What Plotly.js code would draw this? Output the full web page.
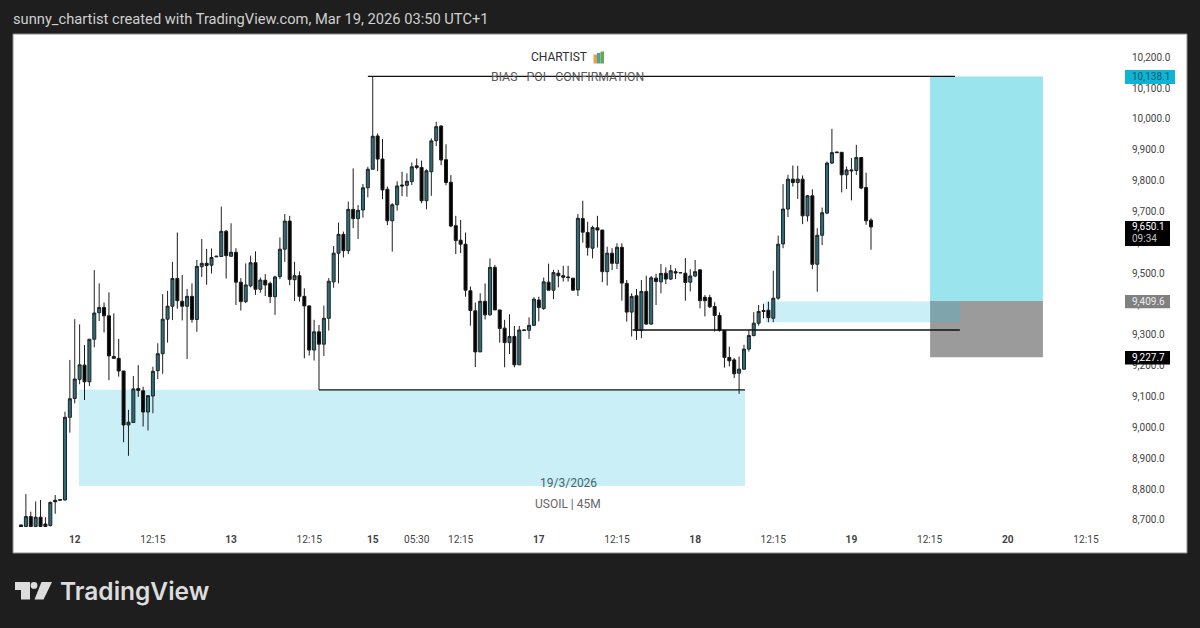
<!DOCTYPE html>
<html><head><meta charset="utf-8">
<script src="https://cdn.plot.ly/plotly-3.0.1.min.js"></script>
<style>html,body{margin:0;padding:0;background:#1e1e1e}#c{width:1200px;height:628px}</style>
</head><body><div id="c"></div>
<script>
const open = [8684,8679,8711,8679,8709,8687,8682,8764,8764,8765,9033,9094,9156,9202,9148,9286,9372,9389,9362,9230,
9224,9183,9008,9016,9126,9119,9050,9102,9184,9239,9351,9393,9483,9409,9393,9425,9350,9521,9532,9526,
9553,9554,9636,9555,9568,9471,9408,9459,9534,9448,9477,9467,9424,9489,9578,9669,9479,9492,9425,9394,
9251,9310,9270,9354,9472,9565,9626,9573,9707,9677,9705,9777,9837,9945,9870,9772,9670,9722,9786,9785,
9797,9848,9843,9735,9829,9930,9977,9868,9795,9654,9607,9594,9443,9378,9245,9409,9365,9519,9381,9322,
9275,9295,9203,9314,9315,9331,9413,9386,9471,9445,9500,9492,9488,9484,9446,9677,9632,9581,9647,9640,
9505,9565,9532,9584,9467,9374,9427,9314,9441,9335,9484,9472,9500,9481,9505,9501,9500,9471,9491,9511,
9422,9421,9392,9363,9314,9227,9219,9176,9189,9254,9298,9338,9379,9380,9354,9419,9595,9708,9805,9794,
9805,9686,9751,9529,9623,9695,9857,9893,9892,9819,9835,9833,9875,9778,9672];
const high = [8684,8784,8727,8760,8765,8709,8760,8781,8767,9051,9219,9351,9334,9267,9287,9510,9467,9405,9438,9370,
9287,9183,9057,9167,9202,9132,9105,9197,9273,9432,9443,9537,9632,9494,9449,9467,9543,9611,9579,9580,
9556,9716,9640,9662,9581,9484,9532,9557,9571,9486,9497,9473,9492,9616,9692,9686,9537,9506,9451,9396,
9349,9332,9395,9484,9588,9664,9635,9732,9840,9721,9789,9845,10138.1,9953,9935,9781,9727,9798,9829,9824,
9859,9872,9865,9837,9937,9991,9980,9918,9818,9686,9673,9632,9457,9405,9435,9467,9548,9527,9381,9349,
9367,9329,9329,9317,9357,9422,9424,9486,9531,9511,9511,9524,9524,9484,9692,9735,9667,9654,9686,9640,
9586,9581,9597,9597,9478,9435,9449,9478,9492,9491,9498,9530,9519,9527,9516,9503,9549,9513,9543,9511,
9429,9430,9406,9373,9316,9262,9225,9230,9268,9316,9374,9397,9401,9408,9508,9622,9789,9819,9849,9848,
9817,9754,9772,9646,9713,9862,9968,9894,9892,9846,9873,9916,9875,9826,9678];
const low = [8679,8679,8679,8679,8679,8679,8679,8720,8762,8763,8983,9078,9140,9089,9134,9260,9345,9308,9153,9224,
9165,8952,8908,9016,9099,9003,8990,9046,9157,9174,9275,9348,9385,9347,9222,9340,9310,9488,9463,9499,
9552,9553,9483,9554,9397,9379,9403,9454,9430,9437,9426,9403,9365,9481,9537,9461,9410,9408,9224,9233,
9217,9122,9232,9314,9453,9467,9551,9562,9646,9611,9680,9746,9837,9831,9740,9656,9570,9703,9750,9748,
9786,9837,9727,9707,9751,9912,9850,9785,9649,9562,9565,9424,9330,9196,9245,9350,9363,9381,9275,9195,
9238,9195,9203,9313,9287,9329,9344,9381,9444,9416,9454,9473,9473,9444,9426,9599,9557,9548,9583,9471,
9460,9510,9514,9411,9343,9295,9284,9289,9333,9333,9397,9435,9465,9478,9481,9500,9411,9441,9487,9386,
9360,9387,9311,9311,9194,9198,9160,9109,9187,9246,9295,9330,9354,9341,9341,9414,9581,9682,9781,9741,
9659,9668,9513,9440,9591,9691,9854,9890,9762,9773,9736,9819,9772,9657,9576];
const close = [8679,8711,8679,8709,8679,8679,8757,8759,8766,9033,9093,9157,9203,9148,9286,9371,9389,9362,9232,9224,
9183,9008,9017,9125,9120,9050,9103,9182,9239,9351,9393,9483,9411,9393,9425,9350,9522,9532,9525,9551,
9555,9636,9557,9568,9471,9408,9462,9534,9448,9478,9462,9424,9488,9578,9669,9480,9492,9425,9394,9251,
9310,9270,9354,9474,9565,9626,9573,9707,9677,9704,9777,9837,9944,9870,9770,9670,9722,9783,9783,9798,
9845,9843,9735,9832,9929,9975,9867,9794,9653,9606,9594,9445,9379,9245,9409,9365,9519,9381,9321,9275,
9295,9203,9316,9316,9331,9416,9389,9472,9445,9502,9492,9487,9486,9445,9678,9633,9583,9648,9640,9505,
9565,9532,9584,9468,9374,9425,9314,9441,9335,9485,9473,9499,9481,9508,9501,9502,9470,9491,9505,9411,
9411,9391,9363,9314,9227,9216,9174,9189,9254,9298,9338,9376,9376,9356,9419,9594,9708,9805,9794,9805,
9686,9751,9529,9623,9696,9857,9891,9891,9819,9835,9832,9875,9776,9670,9650.1];

const priceTicks = [8700,8800,8900,9000,9100,9200,9300,9400,9500,9600,9700,9800,9900,10000,10100,10200];
const priceLabels = ["8,700.0","8,800.0","8,900.0","9,000.0","9,100.0","9,200.0","9,300.0","9,400.0","9,500.0","9,600.0","9,700.0","9,800.0","9,900.0","10,000.0","10,100.0","10,200.0"];
const timeTicks = [11,27,43,59,72,81,90,106,122,138,154,170,186,202,218];
const timeLabels = ["<b>12</b>","12:15","<b>13</b>","12:15","<b>15</b>","05:30","12:15","<b>17</b>","12:15","<b>18</b>","12:15","<b>19</b>","12:15","<b>20</b>","12:15"];

const longEntry = 9409.6, longTarget = 10138.1, longStop = 9227.7, lastPrice = 9650.1;
const demandZone = [11.87, 148.2, 8810, 9122];
const smallZone = [152.4, 192.2, 9341, 9408];
const longSpan = [186.1, 209.2];
const topLine = [71, 191.2, 10138.1];
const midLine = [125.2, 192.2, 9316];
const lowLine = [61, 148.2, 9122];

const PX = v => (v - 13) / 1174;
const PY = v => 1 - (v - 34) / 519;
const pathOf = pts => 'M' + pts.map(p => PX(p[0]) + ',' + PY(p[1])).join('L') + 'Z';

const zoneFill = 'rgba(48,192,220,0.25)';
const rect = (x0,x1,y0,y1,c) => ({type:'rect',layer:'below',xref:'x',yref:'y',x0,x1,y0,y1,fillcolor:c,line:{width:0}});
const hline = (x0,x1,y) => ({type:'line',layer:'above',xref:'x',yref:'y',x0,x1,y0:y,y1:y,line:{color:'#111',width:1.3}});
const pxBox = (x0,x1,y0,y1,c) => ({type:'rect',layer:'above',xref:'paper',yref:'paper',x0:PX(x0),x1:PX(x1),y0:PY(y1),y1:PY(y0),fillcolor:c,line:{width:0}});
const logo = c => ({type:'path',layer:'above',xref:'paper',yref:'paper',fillcolor:c,line:{width:0}});

const shapes = [
  rect(longSpan[0],longSpan[1],longEntry,longTarget,'#9ae4ee'),
  rect(longSpan[0],longSpan[1],longStop,longEntry,'#9b9b9b'),
  rect(demandZone[0],demandZone[1],demandZone[2],demandZone[3],zoneFill),
  rect(smallZone[0],smallZone[1],smallZone[2],smallZone[3],zoneFill),
  hline(topLine[0],topLine[1],topLine[2]),
  hline(midLine[0],midLine[1],midLine[2]),
  hline(lowLine[0],lowLine[1],lowLine[2]),
  pxBox(1125,1175,70,84,'#0db4d4'),
  pxBox(1125,1170,221,246,'#000'),
  pxBox(1125,1170,295,308.3,'#808080'),
  pxBox(1125,1170,351,364.6,'#000'),
  pxBox(593.5,597,54.5,63.5,'#e6a23c'),
  pxBox(597,600.5,53,63.5,'#4f9fa8'),
  pxBox(600.5,604,51.5,63.5,'#5fab4d'),
  Object.assign(logo('#dcdcdc'),{path:pathOf([[15,582],[30,582],[30,599.5],[21,599.5],[21,590],[15,590]])}),
  Object.assign(logo('#dcdcdc'),{path:pathOf([[41.5,582],[52,582],[43.5,599.5],[34.5,599.5]])}),
  {type:'circle',layer:'above',xref:'paper',yref:'paper',x0:PX(30.6),x1:PX(37.4),y0:PY(588.8),y1:PY(582),fillcolor:'#dcdcdc',line:{width:0}},
  {type:'rect',layer:'above',xref:'paper',yref:'paper',x0:0,x1:1,y0:0,y1:1,line:{color:'#8a8a8a',width:1}}
];

const txt = (x,y,text,size,color,extra) => Object.assign({xref:'paper',yref:'paper',x:PX(x),y:PY(y),text,showarrow:false,font:{family:'Roboto, sans-serif',size,color},xanchor:'center',yanchor:'middle'},extra||{});
const left = {xanchor:'left'};

const annotations = [
  txt(11,19,'sunny_chartist created with TradingView.com, Mar 19, 2026 03:50 UTC+1',14.7,'#d0d0d0',left),
  txt(568,57,'CHARTIST <span style="color:rgba(0,0,0,0)">📊</span>',12,'#2f2f2f'),
  txt(567,77,'BIAS   POI   CONFIRMATION',12.3,'#5a5a5a'),
  txt(568,483,'19/3/2026',12,'#47666c'),
  txt(568,504,'USOIL | 45M',12,'#666'),
  txt(58,591,'TradingView',24.5,'#dcdcdc',{xanchor:'left',font:{family:'Inter, sans-serif',size:24.5,color:'#dcdcdc',weight:600}}),
  txt(1130,77,'10,138.1',10,'#0d5a6c',left),
  txt(1130,226.7,'9,650.1',10,'#fff',left),
  txt(1130,238,'09:34',10,'#c4c4c4',left),
  txt(1130,301.6,'9,409.6',10,'#ececec',left),
  txt(1130,357.8,'9,227.7',10,'#fff',left)
];

const trace = {
  type:'candlestick',
  x: open.map((_,i)=>i), open, high, low, close,
  whiskerwidth:0, hoverinfo:'skip',
  increasing:{line:{color:'#222',width:1},fillcolor:'#2b6e7b'},
  decreasing:{line:{color:'#1a1a1a',width:1},fillcolor:'#000'}
};

Plotly.newPlot('c',[trace],{
  width:1200,height:628,showlegend:false,
  paper_bgcolor:'#1e1e1e',plot_bgcolor:'#fff',boxgap:0.12,
  margin:{l:13,r:13,t:34,b:75,pad:0},
  xaxis:{range:[-1.638,238.69],rangeslider:{visible:false},showgrid:false,zeroline:false,showline:false,
    anchor:'free',position:PY(532),side:'bottom',
    tickmode:'array',tickvals:timeTicks,ticktext:timeLabels,ticklabelposition:'outside',
    ticks:'',tickfont:{family:'Roboto, sans-serif',size:10.2,color:'#444'}},
  yaxis:{range:[8593,10275.5],side:'right',anchor:'free',position:PX(1131),showgrid:false,zeroline:false,showline:false,
    tickmode:'array',tickvals:priceTicks,ticktext:priceLabels,ticklabelposition:'outside',
    ticks:'',tickfont:{family:'Roboto, sans-serif',size:10,color:'#444'}},
  shapes,annotations
},{displayModeBar:false,staticPlot:true});
</script></body></html>
